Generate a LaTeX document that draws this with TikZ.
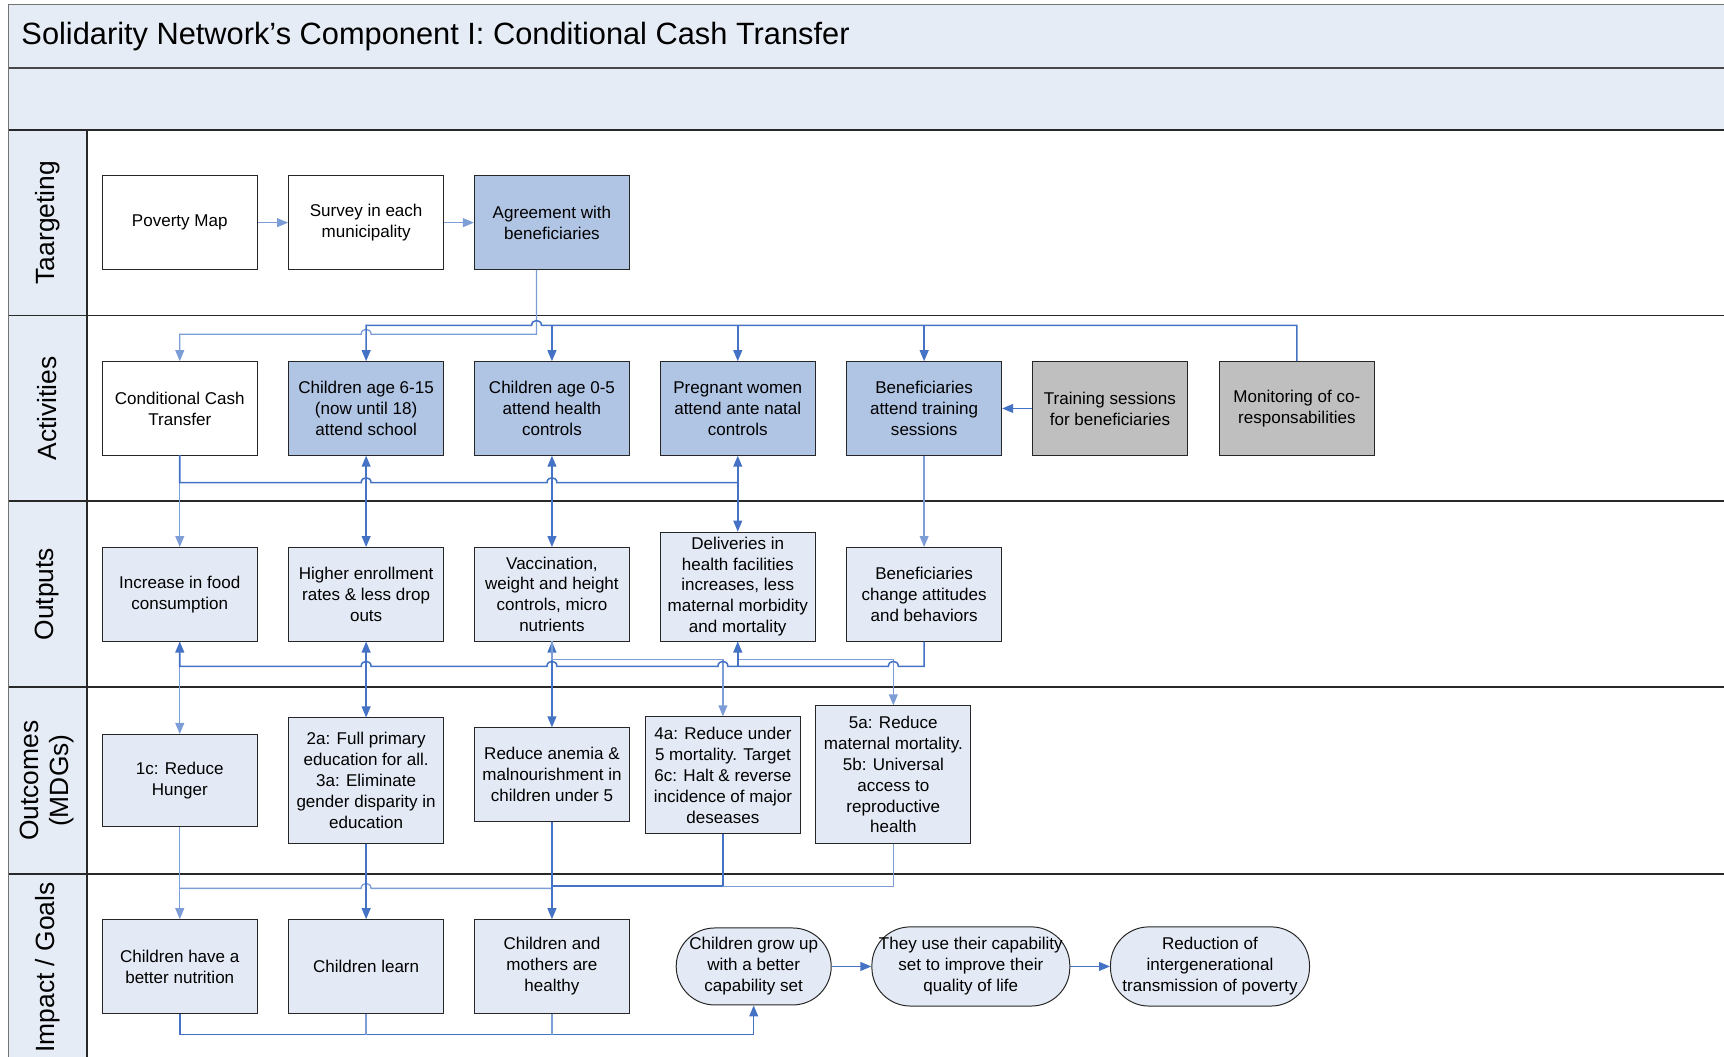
\documentclass[tikz,border=0pt]{standalone}
\usepackage{fontspec}
\setmainfont{Liberation Sans}
\usetikzlibrary{arrows.meta,calc}

\definecolor{band}{RGB}{230,236,246}
\definecolor{pale}{RGB}{228,234,245}
\definecolor{act}{RGB}{176,196,228}
\definecolor{ctrlgrey}{RGB}{191,191,191}
\definecolor{wire}{RGB}{68,114,196}
\definecolor{wirelt}{RGB}{125,157,214}
\definecolor{rule}{RGB}{40,40,40}

\newcommand\bxfont{\fontsize{15.5}{19}\selectfont}
\newcommand\lanefont{\fontsize{24}{27}\selectfont}
% line jumps on horizontal connectors (travelling right / left)
\newcommand\hopR[2]{-- (#1-4.5,#2) .. controls (#1-4.5,#2-6) and (#1+4.5,#2-6) .. (#1+4.5,#2)}
\newcommand\hopL[2]{-- (#1+4.5,#2) .. controls (#1+4.5,#2-6) and (#1-4.5,#2-6) .. (#1-4.5,#2)}

\tikzset{
  box/.style={draw=black!85, line width=0.9pt, minimum width=141pt, minimum height=85pt,
              inner sep=0pt, align=center, font=\bxfont},
  plain/.style={box, fill=white},
  soft/.style={box, fill=pale},
  task/.style={box, fill=act},
  ctrl/.style={box, fill=ctrlgrey},
  pill/.style={soft, rounded corners=35pt},
  lane/.style={rotate=90, align=center, font=\lanefont},
  wd/.style={draw=wire, line width=1.4pt},
  wl/.style={draw=wirelt, line width=1.2pt},
  arr/.style={-{Triangle[length=10pt,width=8pt]}},
  darr/.style={{Triangle[length=10pt,width=8pt]}-{Triangle[length=10pt,width=8pt]}},
}

\begin{document}
\begin{tikzpicture}[x=1pt,y=-1pt]
\useasboundingbox (0,0) rectangle (1568,961);
\clip (0,0) rectangle (1568,961);

% pool frame, title bands and lane headers
\fill[band] (8,4) rectangle (1580,118);
\fill[band] (8,118) rectangle (79,980);
\draw[line width=1.2pt, draw=black!55] (1580,4) -- (8,4) -- (8,980);
\draw[line width=1.4pt, draw=rule!85] (8,62) -- (1580,62);
\foreach \y in {118,287,456,625,795} \draw[line width=1.6pt, draw=rule] (8,\y) -- (1580,\y);
\draw[line width=1.2pt, draw=rule] (79,118) -- (79,980);

\node[anchor=west, font=\fontsize{28}{32}\selectfont] (title) at (16,33)
  {Solidarity Network’s Component I: Conditional Cash Transfer};

\node[lane] (l1) at (43,202.5) {Taargeting};
\node[lane] (l2) at (43,371.5) {Activities};
\node[lane] (l3) at (43,540.5) {Outputs};
\node[lane] (l4) at (43,710) {Outcomes\\(MDGs)};
\node[lane] (l5) at (43,880) {Impact / Goals};

% targeting
\node[plain] (pov)  at (163.5,202.5) {Poverty Map};
\node[plain] (surv) at (333,202.5)   {Survey in each\\municipality};
\node[task]  (agree) at (502,202.5)  {Agreement with\\beneficiaries};

% activities
\node[plain] (cct)    at (163.5,371.5)  {Conditional Cash\\Transfer};
\node[task]  (school) at (333,371.5)    {Children age 6-15\\(now until 18)\\attend school};
\node[task]  (health) at (502,371.5)    {Children age 0-5\\attend health\\controls};
\node[task]  (prenat) at (671,371.5)    {Pregnant women\\attend ante natal\\controls};
\node[task]  (attend) at (840.5,371.5)  {Beneficiaries\\attend training\\sessions};
\node[ctrl]  (train)  at (1009.5,371.5) {Training sessions\\for beneficiaries};
\node[ctrl]  (monit)  at (1179.5,371.5) {Monitoring of co-\\responsabilities};

% outputs
\node[soft] (food)   at (163.5,540.5) {Increase in food\\consumption};
\node[soft] (enrol)  at (333,540.5)   {Higher enrollment\\rates \& less drop\\outs};
\node[soft] (vacc)   at (502,540.5)   {Vaccination,\\weight and height\\controls, micro\\nutrients};
\node[soft, minimum height=99pt] (deliv) at (671,533.5)
  {Deliveries in\\health facilities\\increases, less\\maternal morbidity\\and mortality};
\node[soft] (change) at (840.5,540.5) {Beneficiaries\\change attitudes\\and behaviors};

% outcomes (MDGs)
\node[soft, minimum height=84pt]  (hunger) at (163.5,710) {1c: Reduce\\Hunger};
\node[soft, minimum height=114pt] (edu)    at (333,710)
  {2a: Full primary\\education for all.\\3a: Eliminate\\gender disparity in\\education};
\node[soft] (anemia) at (502,704.5) {Reduce anemia \&\\malnourishment in\\children under 5};
\node[soft, minimum height=106pt] (child5) at (657.5,705)
  {4a: Reduce under\\5 mortality. Target\\6c: Halt \& reverse\\incidence of major\\deseases};
\node[soft, minimum height=125pt] (mother) at (812.5,704.5)
  {5a: Reduce\\maternal mortality.\\5b: Universal\\access to\\reproductive\\health};

% impact / goals
\node[soft] (nutri)   at (163.5,879) {Children have a\\better nutrition};
\node[soft] (learn)   at (333,879)   {Children learn};
\node[soft] (healthy) at (502,879)   {Children and\\mothers are\\healthy};
\node[pill, minimum width=141pt, minimum height=70pt] (grow) at (685.5,879)
  {Children grow up\\with a better\\capability set};
\node[pill, minimum width=180pt, minimum height=72pt] (use) at (883,879)
  {They use their capability\\set to improve their\\quality of life};
\node[pill, minimum width=181pt, minimum height=72pt] (less) at (1100.5,879)
  {Reduction of\\intergenerational\\transmission of poverty};

% ---- connectors ----
% targeting chain
\draw[wl, arr] (pov) -- (surv);
\draw[wl, arr] (surv) -- (agree);

% agreement feeds the cash transfer
\draw[wl, arr] ([xshift=-14pt]agree.south) -- (488,304) \hopL{333}{304} -- (163.5,304) -- (cct.north);

% monitoring of co-responsabilities feeds the conditions
\draw[wd, arr] (monit.north) -- (1179.5,296) -- (502,296) \hopL{488}{296} -- (333,296) -- (school.north);
\coordinate (m3) at (502,296);
\coordinate (m4) at (671,296);
\coordinate (m5) at (840.5,296);
\draw[wd, arr] (m3) -- (health.north);
\draw[wd, arr] (m4) -- (prenat.north);
\draw[wd, arr] (m5) -- (attend.north);
\draw[wd, arr] (train) -- (attend);

% activities -> outputs
\draw[wl, arr] (cct) -- (food);
\draw[wd] (163.5,414) -- (163.5,439) \hopR{333}{439} \hopR{502}{439} -- (671,439);
\draw[wd, darr] (school) -- (enrol);
\draw[wd, darr] (health) -- (vacc);
\draw[wd, darr] (prenat) -- (deliv);
\draw[wl, arr] (attend) -- (change);

% outputs -> outcomes
\draw[wl, arr] (food) -- (hunger);
\draw[wd, darr] (enrol) -- (edu);
\draw[wd, darr] (vacc) -- (anemia);
\draw[wl, arr] (502,583) -- (502,600) -- (657.5,600) -- (child5.north);
\draw[wl, arr] (deliv.south) -- (671,600) -- (812.5,600) -- (mother.north);
\draw[wd, arr] (change.south) -- (840.5,606) \hopL{812.5}{606} -- (671,606)
  \hopL{657.5}{606} \hopL{502}{606} \hopL{333}{606} -- (163.5,606) -- (food.south);
\coordinate (b4) at (671,606);
\draw[wd, arr] (b4) -- (deliv.south);

% outcomes -> impact
\draw[wl, arr] (hunger) -- (nutri);
\draw[wl] (163.5,808) \hopR{333}{808} -- (502,808);
\draw[wd, arr] (edu) -- (learn);
\draw[wd, arr] (anemia) -- (healthy);
\draw[wd] (child5.south) -- (657.5,806) -- (502,806);
\draw[wl] (mother.south) -- (812.5,806) -- (657.5,806);

% impact chain
\draw[wd, arr] (nutri.south) -- (163.5,941) -- (685.5,941) -- (grow.south);
\draw[wl] (learn.south) -- (333,941);
\draw[wl] (healthy.south) -- (502,941);
\draw[wd, arr] (grow) -- (use);
\draw[wd, arr] (use) -- (less);
\end{tikzpicture}
\end{document}
